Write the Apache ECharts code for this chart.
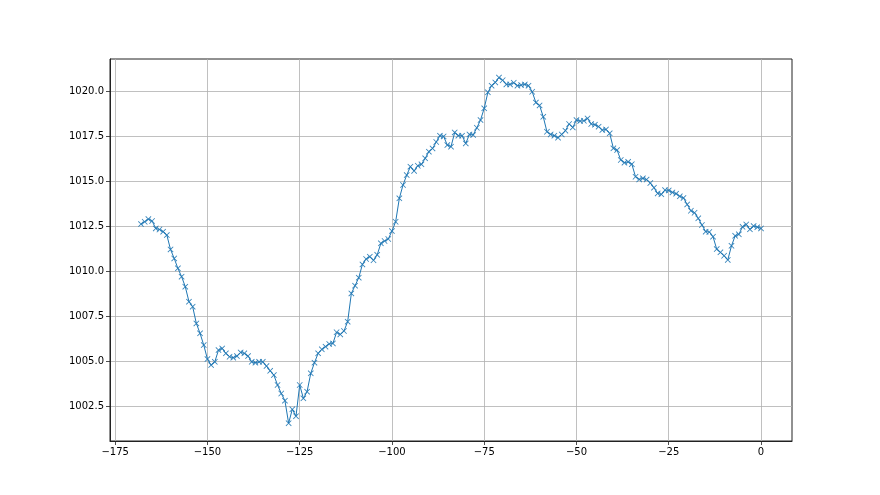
<!DOCTYPE html>
<html>
<head>
<meta charset="utf-8">
<script src="https://cdn.jsdelivr.net/npm/echarts@6/dist/echarts.min.js"></script>
<style>
html,body{margin:0;padding:0;background:#fff;}
#chart{width:880px;height:495px;}
</style>
</head>
<body>
<div id="chart"></div>
<script>
// hours relative to now
const hours = [];
for (let h = -168; h <= 0; h++) hours.push(h);

const pressure = [
  1012.61, 1012.74, 1012.89, 1012.78, 1012.37, 1012.31, 1012.19, 1012.00, 1011.20, 1010.70,
  1010.15, 1009.69, 1009.13, 1008.30, 1008.02, 1007.09, 1006.54, 1005.89, 1005.11, 1004.78,
  1004.96, 1005.61, 1005.70, 1005.43, 1005.24, 1005.19, 1005.28, 1005.48, 1005.43, 1005.28,
  1004.96, 1004.91, 1004.96, 1004.96, 1004.72, 1004.46, 1004.22, 1003.67, 1003.20, 1002.80,
  1001.55, 1002.32, 1001.94, 1003.67, 1002.93, 1003.30, 1004.32, 1004.91, 1005.43, 1005.65,
  1005.80, 1005.95, 1005.98, 1006.60, 1006.48, 1006.67, 1007.19, 1008.76, 1009.19, 1009.63,
  1010.37, 1010.67, 1010.80, 1010.60, 1010.90, 1011.54, 1011.67, 1011.78, 1012.22, 1012.74,
  1014.04, 1014.78, 1015.33, 1015.80, 1015.56, 1015.85, 1015.93, 1016.26, 1016.63, 1016.81,
  1017.17, 1017.52, 1017.48, 1017.00, 1016.91, 1017.70, 1017.52, 1017.52, 1017.09, 1017.59,
  1017.56, 1017.96, 1018.39, 1019.04, 1019.93, 1020.30, 1020.48, 1020.75, 1020.60, 1020.37,
  1020.37, 1020.46, 1020.30, 1020.33, 1020.37, 1020.30, 1019.96, 1019.36, 1019.20, 1018.57,
  1017.74, 1017.59, 1017.52, 1017.41, 1017.59, 1017.80, 1018.17, 1017.98, 1018.39, 1018.33,
  1018.35, 1018.48, 1018.17, 1018.13, 1018.02, 1017.83, 1017.87, 1017.65, 1016.82, 1016.72,
  1016.17, 1016.02, 1016.07, 1015.94, 1015.24, 1015.09, 1015.15, 1015.08, 1014.89, 1014.63,
  1014.31, 1014.26, 1014.50, 1014.48, 1014.37, 1014.30, 1014.15, 1014.06, 1013.70, 1013.35,
  1013.24, 1012.93, 1012.56, 1012.19, 1012.17, 1011.91, 1011.22, 1011.04, 1010.85, 1010.62,
  1011.40, 1011.96, 1012.04, 1012.46, 1012.59, 1012.32, 1012.50, 1012.44, 1012.37
];

const xTicks = [-175, -150, -125, -100, -75, -50, -25, 0];
const yTicks = [1002.5, 1005.0, 1007.5, 1010.0, 1012.5, 1015.0, 1017.5, 1020.0];

const xMin = -176.4, xMax = 8.4;
const yMin = 1000.56, yMax = 1021.78;

const data = hours.map((h, i) => [h, pressure[i]]);

const chart = echarts.init(document.getElementById('chart'), null, {renderer: 'canvas'});
const font = 'DejaVu Sans';
chart.setOption({
  animation: false,
  backgroundColor: '#ffffff',
  grid: {left: 110, right: 88, top: 59, bottom: 54, show: true, borderColor: '#222', borderWidth: 1, backgroundColor: 'transparent'},
  xAxis: {
    type: 'value', min: xMin, max: xMax,
    axisLine: {show: true, onZero: false, lineStyle: {color: '#222', width: 1}},
    axisTick: {show: true, inside: false, length: 4, customValues: xTicks, lineStyle: {color: '#222', width: 0.8}},
    axisLabel: {customValues: xTicks, margin: 6, color: '#000', fontFamily: font, fontSize: 10,
      formatter: v => String(Math.round(v)).replace('-', '\u2212')},
    splitLine: {show: true, lineStyle: {color: '#b0b0b0', width: 0.8}}
  },
  yAxis: {
    type: 'value', min: yMin, max: yMax,
    axisLine: {show: true, onZero: false, lineStyle: {color: '#222', width: 1}},
    axisTick: {show: true, inside: false, length: 4, customValues: yTicks, lineStyle: {color: '#222', width: 0.8}},
    axisLabel: {customValues: yTicks, margin: 6, color: '#000', fontFamily: font, fontSize: 10,
      formatter: v => v.toFixed(1)},
    splitLine: {show: true, lineStyle: {color: '#b0b0b0', width: 0.8}}
  },
  series: [{
    type: 'line',
    data: data,
    lineStyle: {color: '#1f77b4', width: 1},
    symbol: 'path://M0,1 L1,0 L5,4 L9,0 L10,1 L6,5 L10,9 L9,10 L5,6 L1,10 L0,9 L4,5 Z',
    symbolSize: 6,
    showAllSymbol: true,
    itemStyle: {color: '#1f77b4', opacity: 0.9},
    emphasis: {disabled: true}
  }]
});
</script>
</body>
</html>
